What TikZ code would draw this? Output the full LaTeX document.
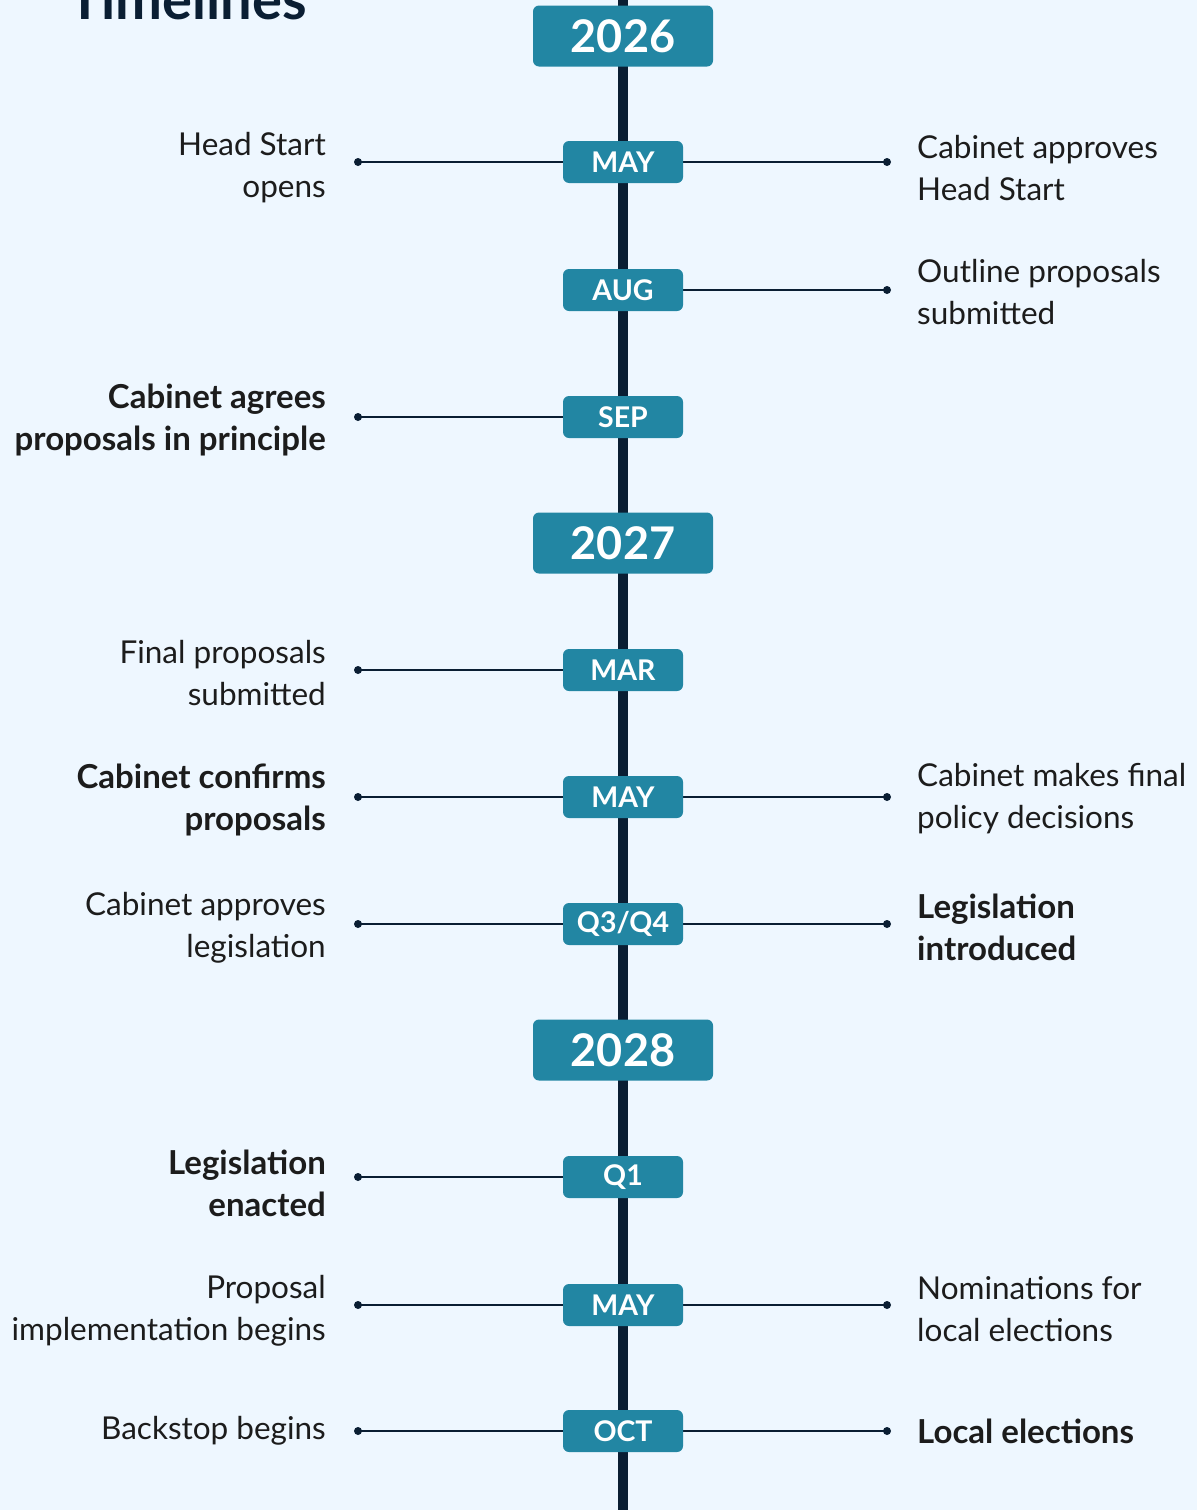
\documentclass[tikz,border=0pt]{standalone}
\usepackage{fontspec}
\setmainfont{Lato}
\usetikzlibrary{backgrounds}
\definecolor{bgc}{HTML}{EEF7FF}
\definecolor{boxc}{HTML}{2286A3}
\definecolor{navy}{HTML}{0A1E33}
\definecolor{txt}{HTML}{1C1C1C}
\tikzset{
  yearbox/.style={fill=boxc, rounded corners=6pt, minimum width=180pt, minimum height=61pt, inner sep=0pt, text=white, font=\fontsize{45}{48}\selectfont\bfseries},
  monthbox/.style={fill=boxc, rounded corners=6pt, minimum width=120pt, minimum height=42pt, inner sep=0pt, text=white, font=\fontsize{28.5}{30}\selectfont\bfseries},
  conn/.style={draw=navy, line width=2pt},
  dot/.style={fill=navy},
  lefttext/.style={anchor=east, align=right, text=txt, inner sep=0pt, font=\fontsize{31.5}{42}\selectfont},
  righttext/.style={anchor=west, align=left, text=txt, inner sep=0pt, font=\fontsize{31.5}{42}\selectfont},
  boldtext/.style={font=\fontsize{33}{42}\selectfont\bfseries},
  spine/.style={draw=navy, line width=10pt},
}
\begin{document}
\begin{tikzpicture}[x=1pt,y=-1pt]
\useasboundingbox (0,0) rectangle (1197,1510);
% title
\node[anchor=base west, inner sep=0pt, text=navy, font=\fontsize{56}{60}\selectfont\bfseries] (title) at (68,19) {Timelines};
% years
\node[yearbox] (y1) at (623,36) {2026};
\node[yearbox] (y2) at (623,543) {2027};
\node[yearbox] (y3) at (623,1050) {2028};
% months
\node[monthbox] (m1) at (623,162) {MAY};
\node[monthbox] (m2) at (623,290) {AUG};
\node[monthbox] (m3) at (623,417) {SEP};
\node[monthbox] (m4) at (623,670) {MAR};
\node[monthbox] (m5) at (623,797) {MAY};
\node[monthbox] (m6) at (623,924) {Q3/Q4};
\node[monthbox] (m7) at (623,1177) {Q1};
\node[monthbox] (m8) at (623,1305) {MAY};
\node[monthbox] (m9) at (623,1431) {OCT};
% dot coordinates
\coordinate (l1) at (358,162); \coordinate (r1) at (887,162);
\coordinate (r2) at (887,290);
\coordinate (l3) at (358,417);
\coordinate (l4) at (358,670);
\coordinate (l5) at (358,797); \coordinate (r5) at (887,797);
\coordinate (l6) at (358,924); \coordinate (r6) at (887,924);
\coordinate (l7) at (358,1177);
\coordinate (l8) at (358,1305); \coordinate (r8) at (887,1305);
\coordinate (l9) at (358,1431); \coordinate (r9) at (887,1431);
\coordinate (top) at (623,0); \coordinate (bot) at (623,1510);
\begin{scope}[on background layer]
  \fill[bgc] (0,0) rectangle (1197,1510);
  \draw[spine] (top) -- (bot);
  \foreach \i in {1,3,4,5,6,7,8,9} {
    \draw[conn] (l\i) -- (m\i.center);
    \fill[dot] (l\i) circle (4pt);
  }
  \foreach \i in {1,2,5,6,8,9} {
    \draw[conn] (m\i.center) -- (r\i);
    \fill[dot] (r\i) circle (4pt);
  }
\end{scope}
% left texts
\node[lefttext] (t1l) at (326,168) {Head Start\\opens};
\node[lefttext, boldtext] (t3l) at (326,420) {Cabinet agrees\\proposals in principle};
\node[lefttext] (t4l) at (326,673) {Final proposals\\submitted};
\node[lefttext, boldtext] (t5l) at (326,800) {Cabinet confirms\\proposals};
\node[lefttext] (t6l) at (326,928) {Cabinet approves\\legislation};
\node[lefttext, boldtext] (t7l) at (326,1183) {Legislation\\enacted};
\node[lefttext] (t8l) at (326,1311) {Proposal\\implementation begins};
\node[lefttext] (t9l) at (326,1431) {Backstop begins};
% right texts
\node[righttext] (t1r) at (917,168) {Cabinet approves\\Head Start};
\node[righttext] (t2r) at (917,292) {Outline proposals\\submitted};
\node[righttext] (t5r) at (917,799) {Cabinet makes final\\policy decisions};
\node[righttext, boldtext] (t6r) at (917,927) {Legislation\\introduced};
\node[righttext] (t8r) at (917,1309) {Nominations for\\local elections};
\node[righttext, boldtext] (t9r) at (917,1431) {Local elections};
\end{tikzpicture}
\end{document}
